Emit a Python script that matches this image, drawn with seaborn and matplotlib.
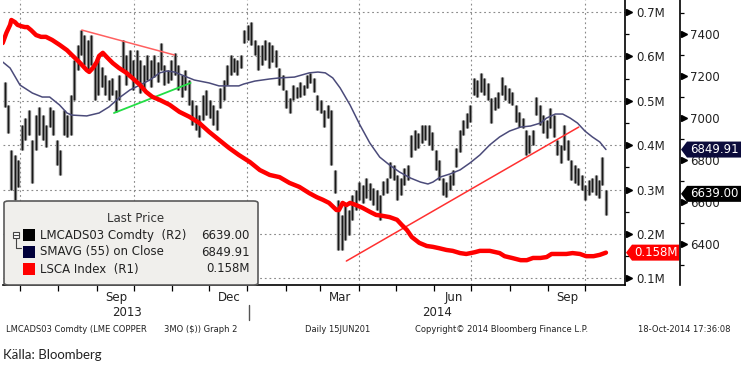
import numpy as np
import pandas as pd
import matplotlib
matplotlib.use("Agg")
import matplotlib.pyplot as plt
import matplotlib.transforms as mtrans
from matplotlib.patches import FancyBboxPatch, Rectangle, Polygon
from matplotlib.lines import Line2D
from matplotlib.ticker import FixedLocator, FuncFormatter
import seaborn as sns

sns.set_style("white")
plt.rcParams['font.family'] = ['DejaVu Sans']

# ---------------- data ----------------
bar_start, bar_end = "2013-06-18 12:00", "2014-10-18"
bar_highs = [7172, 7062, 6848, 6824, 6800, 6967, 7000, 7038, 6895, 7014,
             7053, 7014, 6967, 7053, 7038, 6895, 6848, 7038, 7014, 7110,
             7276, 7348, 7419, 7395, 7372, 7395, 7253, 7276, 7243, 7205,
             7181, 7191, 7134, 7205, 7372, 7300, 7324, 7276, 7324, 7276,
             7253, 7300, 7276, 7300, 7267, 7357, 7253, 7229, 7276, 7310,
             7253, 7205, 7229, 7181, 7086, 7062, 7014, 7110, 7134, 7086,
             7062, 7038, 7143, 7181, 7253, 7300, 7286, 7276, 7300, 7419,
             7443, 7457, 7372, 7348, 7348, 7372, 7362, 7348, 7324, 7238,
             7205, 7134, 7095, 7157, 7148, 7172, 7157, 7205, 7215, 7191,
             7110, 7086, 7038, 7062, 7038, 6753, 6610, 6538, 6586, 6562,
             6633, 6657, 6695, 6681, 6714, 6691, 6667, 6657, 6633, 6700,
             6714, 6791, 6776, 6729, 6714, 6762, 6776, 6919, 6943, 6929,
             6967, 6967, 6967, 6933, 6848, 6800, 6714, 6695, 6729, 6753,
             6857, 6943, 6991, 7024, 7062, 7191, 7181, 7215, 7191, 7167,
             7095, 7100, 7124, 7195, 7157, 7143, 7124, 7062, 7029, 7000,
             6943, 6919, 6943, 7100, 7062, 7014, 6991, 7048, 7014, 6895,
             6872, 6967, 6895, 6800, 6776, 6762, 6729, 6681, 6705, 6714,
             6729, 6705, 6814, 6657]
bar_lows = [7053, 6929, 6657, 6610, 6672, 6848, 6895, 6919, 6691, 6848,
            6919, 6895, 6862, 6957, 6919, 6776, 6729, 6919, 6910, 6919,
            7086, 7229, 7300, 7253, 7229, 7253, 7086, 7110, 7148, 7110,
            7086, 7110, 7029, 7086, 7229, 7157, 7205, 7134, 7181, 7119,
            7134, 7181, 7148, 7195, 7172, 7229, 7157, 7167, 7181, 7205,
            7134, 7100, 7134, 7062, 6967, 6943, 6910, 6991, 7014, 7000,
            6967, 6943, 7048, 7086, 7157, 7205, 7219, 7205, 7238, 7357,
            7372, 7348, 7300, 7229, 7253, 7276, 7238, 7267, 7243, 7157,
            7134, 7048, 7024, 7086, 7095, 7100, 7110, 7143, 7167, 7124,
            7038, 7024, 6957, 7000, 6776, 6643, 6372, 6372, 6419, 6443,
            6515, 6562, 6610, 6595, 6619, 6610, 6586, 6562, 6515, 6633,
            6643, 6714, 6705, 6610, 6633, 6681, 6705, 6814, 6848, 6857,
            6881, 6895, 6872, 6848, 6753, 6705, 6633, 6624, 6657, 6681,
            6767, 6838, 6919, 6953, 6981, 7110, 7100, 7124, 7110, 7086,
            6976, 7038, 7048, 7110, 7086, 7072, 7062, 6981, 6957, 6953,
            6824, 6833, 6872, 7014, 6967, 6929, 6905, 6953, 6910, 6824,
            6786, 6848, 6800, 6705, 6691, 6681, 6657, 6610, 6633, 6648,
            6633, 6619, 6681, 6538]

sma_dates = ["2013-06-17", "2013-06-23", "2013-07-01", "2013-07-11", "2013-07-19", "2013-07-25",
             "2013-08-02", "2013-08-08", "2013-08-12", "2013-08-24", "2013-09-03", "2013-09-11",
             "2013-09-19", "2013-09-28", "2013-10-06", "2013-10-14", "2013-10-22", "2013-10-28",
             "2013-11-03", "2013-11-11", "2013-11-19", "2013-12-01", "2013-12-09", "2013-12-17",
             "2013-12-25", "2013-12-29", "2014-01-07", "2014-01-19", "2014-01-27", "2014-02-08",
             "2014-02-20", "2014-02-27", "2014-03-05", "2014-03-11", "2014-03-17", "2014-03-25",
             "2014-04-02", "2014-04-10", "2014-04-18", "2014-04-26", "2014-05-04", "2014-05-13",
             "2014-05-21", "2014-05-27", "2014-05-31", "2014-06-06", "2014-06-14", "2014-06-22",
             "2014-06-30", "2014-07-08", "2014-07-16", "2014-07-24", "2014-08-01", "2014-08-10",
             "2014-08-18", "2014-08-26", "2014-08-31", "2014-09-07", "2014-09-13", "2014-09-19",
             "2014-09-25", "2014-10-01", "2014-10-07", "2014-10-13", "2014-10-18"]
sma_values = [7267, 7238, 7157, 7119, 7100, 7100, 7062, 7024, 7014, 7010,
              7024, 7053, 7095, 7134, 7157, 7181, 7215, 7224, 7219, 7200,
              7181, 7167, 7153, 7153, 7153, 7162, 7176, 7186, 7191, 7195,
              7215, 7219, 7215, 7191, 7143, 7062, 6967, 6881, 6814, 6776,
              6743, 6714, 6695, 6686, 6695, 6719, 6734, 6753, 6786, 6824,
              6872, 6910, 6938, 6957, 6962, 6976, 7000, 7019, 7019, 7000,
              6976, 6938, 6910, 6886, 6850]

lsca_dates = ["2013-06-17", "2013-06-20", "2013-06-23", "2013-06-24", "2013-06-27", "2013-06-29",
              "2013-07-02", "2013-07-05", "2013-07-07", "2013-07-10", "2013-07-14", "2013-07-18",
              "2013-07-22", "2013-07-27", "2013-08-02", "2013-08-08", "2013-08-12", "2013-08-18",
              "2013-08-24", "2013-08-26", "2013-08-29", "2013-09-01", "2013-09-03", "2013-09-06",
              "2013-09-09", "2013-09-14", "2013-09-19", "2013-09-25", "2013-09-30", "2013-10-06",
              "2013-10-11", "2013-10-16", "2013-10-22", "2013-10-30", "2013-11-07", "2013-11-15",
              "2013-11-23", "2013-12-01", "2013-12-09", "2013-12-17", "2013-12-25", "2014-01-03",
              "2014-01-11", "2014-01-19", "2014-01-27", "2014-02-04", "2014-02-12", "2014-02-20",
              "2014-02-26", "2014-03-03", "2014-03-08", "2014-03-14", "2014-03-16", "2014-03-19",
              "2014-03-22", "2014-03-25", "2014-03-30", "2014-04-04", "2014-04-10", "2014-04-15",
              "2014-04-20", "2014-04-26", "2014-05-02", "2014-05-06", "2014-05-10", "2014-05-14",
              "2014-05-20", "2014-05-26", "2014-05-31", "2014-06-05", "2014-06-11", "2014-06-16",
              "2014-06-22", "2014-06-27", "2014-07-04", "2014-07-08", "2014-07-16", "2014-07-24",
              "2014-07-28", "2014-08-03", "2014-08-10", "2014-08-15", "2014-08-20", "2014-08-26",
              "2014-08-31", "2014-09-04", "2014-09-11", "2014-09-16", "2014-09-21", "2014-09-27",
              "2014-10-02", "2014-10-08", "2014-10-13", "2014-10-18"]
lsca_values = [0.630, 0.653, 0.671, 0.682, 0.677, 0.671, 0.668, 0.666, 0.666, 0.659,
               0.648, 0.644, 0.644, 0.637, 0.626, 0.614, 0.603, 0.587, 0.569, 0.565,
               0.574, 0.587, 0.601, 0.608, 0.599, 0.585, 0.574, 0.563, 0.551, 0.536,
               0.520, 0.509, 0.502, 0.491, 0.475, 0.464, 0.450, 0.430, 0.412, 0.394,
               0.378, 0.362, 0.344, 0.333, 0.328, 0.315, 0.306, 0.292, 0.283, 0.277,
               0.270, 0.254, 0.254, 0.270, 0.265, 0.270, 0.265, 0.259, 0.250, 0.243,
               0.241, 0.238, 0.232, 0.220, 0.209, 0.193, 0.180, 0.173, 0.171, 0.168,
               0.164, 0.162, 0.157, 0.155, 0.159, 0.162, 0.162, 0.157, 0.150, 0.146,
               0.141, 0.141, 0.146, 0.146, 0.148, 0.155, 0.155, 0.155, 0.157, 0.155,
               0.150, 0.150, 0.153, 0.158]

trend_upper_dates = ["2013-08-20", "2013-11-03"]
trend_upper_prices = [7419, 7300]
trend_lower_dates = ["2013-09-15", "2013-11-16"]
trend_lower_prices = [7024, 7167]
trend_2014_dates = ["2014-03-22", "2014-09-26"]
trend_2014_prices = [6319, 6957]

month_label_dates = ["2013-09-17", "2013-12-17", "2014-03-17", "2014-06-17", "2014-09-17"]
month_labels = ["Sep", "Dec", "Mar", "Jun", "Sep"]
quarter_dates = ["2013-07-01", "2013-10-01", "2014-01-01", "2014-04-01", "2014-07-01", "2014-10-01"]
r1_ticks = [0.1, 0.2, 0.3, 0.4, 0.5, 0.6, 0.7]
r1_minor = [0.15, 0.25, 0.35, 0.45, 0.55, 0.65]
r2_ticks = [6400, 6600, 6800, 7000, 7200, 7400]
r2_minor = [6300, 6500, 6700, 6900, 7100, 7300, 7500]

last_price, last_sma, last_lsca = 6639.00, 6849.91, 0.158

# ---------------- figure ----------------
W, H = 747, 366
fig = plt.figure(figsize=(W / 100, H / 100), dpi=100)
fig.patch.set_facecolor("white")


def fx(p):
    return p / W


def fy(p):
    return 1 - p / H


L, R, T, B = 3, 625, 0, 285
ax = fig.add_axes([fx(L), fy(B), (R - L) / W, (B - T) / H])
ax1 = ax.twinx()

bar_dates = pd.date_range(bar_start, bar_end, periods=len(bar_highs))
xmin, xmax = pd.Timestamp("2013-06-17 06:00"), pd.Timestamp("2014-11-02 10:00")

# grid
grid_kw = dict(color="#8a8a8a", lw=0.8, linestyle=(0, (1.6, 2.6)), zorder=0.5)
blend_h = mtrans.blended_transform_factory(ax.transAxes, ax1.transData)
for v in r1_ticks:
    ax.plot([0, 1], [v, v], transform=blend_h, **grid_kw)
for q in pd.to_datetime(quarter_dates):
    ax.axvline(q, **grid_kw)

# price bars
ax.vlines(bar_dates, bar_lows, bar_highs, color="#777777", lw=2.4, zorder=2)
ax.vlines(bar_dates, bar_lows, bar_highs, color="#161616", lw=0.7, zorder=2.1)

# SMA
sns.lineplot(x=pd.to_datetime(sma_dates), y=sma_values, ax=ax, color="#4b4b7a", lw=1.1, zorder=3)

# trend lines
sns.lineplot(x=pd.to_datetime(trend_upper_dates), y=trend_upper_prices, ax=ax, color="#ff6060", lw=1.1, zorder=3)
sns.lineplot(x=pd.to_datetime(trend_lower_dates), y=trend_lower_prices, ax=ax, color="#22dd44", lw=1.3, zorder=3)
sns.lineplot(x=pd.to_datetime(trend_2014_dates), y=trend_2014_prices, ax=ax, color="#ff3030", lw=1.1, zorder=3)

# LSCA
sns.lineplot(x=pd.to_datetime(lsca_dates), y=lsca_values, ax=ax1, color="#ff0000", lw=3.2, zorder=4)

ax.set_xlim(xmin, xmax)
ax.set_ylim(6205, 7562)
ax1.set_ylim(0.0851, 0.727)
for a in (ax, ax1):
    a.set_xlabel("")
    a.set_ylabel("")

# spines
for s in ("left", "top"):
    ax.spines[s].set_visible(False)
    ax1.spines[s].set_visible(False)
ax1.spines["bottom"].set_visible(False)
ax.spines["bottom"].set_color("black")
ax.spines["bottom"].set_linewidth(1.2)
ax1.spines["right"].set_color("black")
ax1.spines["right"].set_linewidth(1.2)
ax.spines["right"].set_position(("axes", (680 - L) / (R - L)))
ax.spines["right"].set_color("black")
ax.spines["right"].set_linewidth(1.2)

ax.yaxis.tick_right()
ax.yaxis.set_label_position("right")

# R2 ticks (price)
ax.yaxis.set_major_locator(FixedLocator(r2_ticks))
ax.yaxis.set_minor_locator(FixedLocator(r2_minor))
ax.yaxis.set_major_formatter(FuncFormatter(lambda v, p: f"{v:.0f}"))
ax.tick_params(axis="y", which="major", length=0, pad=7.5, labelsize=8.5, labelcolor="#222222")
ax.tick_params(axis="y", which="minor", length=3, width=0.9, color="black", direction="out")

# R1 ticks (LSCA)
ax1.yaxis.set_major_locator(FixedLocator(r1_ticks))
ax1.yaxis.set_minor_locator(FixedLocator(r1_minor))
ax1.yaxis.set_major_formatter(FuncFormatter(lambda v, p: f"{v:.1f}M"))
ax1.tick_params(axis="y", which="major", length=0, pad=8, labelsize=8.5, labelcolor="#222222")
ax1.tick_params(axis="y", which="minor", length=3, width=0.9, color="black", direction="out")

# triangle tick markers
tr1 = mtrans.blended_transform_factory(ax1.transAxes, ax1.transData)
ax1.plot([(629 - L) / (R - L)] * len(r1_ticks), r1_ticks, linestyle="none", marker=">",
         ms=4.5, color="black", transform=tr1, clip_on=False, zorder=6)
tr2 = mtrans.blended_transform_factory(ax.transAxes, ax.transData)
ax.plot([(684 - L) / (R - L)] * len(r2_ticks), r2_ticks, linestyle="none", marker=">",
        ms=4.5, color="black", transform=tr2, clip_on=False, zorder=6)

# x ticks
ax.set_xticks(pd.to_datetime(month_label_dates))
ax.set_xticklabels(month_labels)
month_starts = pd.date_range("2013-07-01", "2014-10-01", freq="MS")
ax.set_xticks(month_starts, minor=True)
ax.tick_params(axis="x", which="major", length=0, pad=4, labelsize=8.5, labelcolor="#222222")
ax.tick_params(axis="x", which="minor", length=4, width=0.9, color="black", direction="out", bottom=True)
ax1.tick_params(axis="x", which="both", bottom=False, labelbottom=False)

# year labels and separator
fig.text(fx(127), fy(313), "2013", ha="center", va="center", fontsize=8.5, color="#222222")
fig.text(fx(437), fy(313), "2014", ha="center", va="center", fontsize=8.5, color="#222222")
fig.add_artist(Line2D([fx(249), fx(249)], [fy(305), fy(320)], color="#555555", lw=1.0))

# last value boxes (pointed tags drawn in pixel space at the data value)
ident = mtrans.IdentityTransform()


def value_tag(axis, value, text, x0, x1, color):
    yd = axis.transData.transform((0, value))[1]
    h = 8
    poly = Polygon([(x0, yd), (x0 + 6, yd + h), (x1, yd + h), (x1, yd - h), (x0 + 6, yd - h)],
                   closed=True, transform=ident, facecolor=color, edgecolor="none", zorder=9)
    fig.add_artist(poly)
    fig.text((x0 + 6 + x1) / 2 + 0.5, yd, text, transform=ident, ha="center", va="center",
             fontsize=8.5, color="white", zorder=10)


value_tag(ax, last_sma, f"{last_sma:.2f}", 681, 741, "#0b0b3b")
value_tag(ax, last_price, f"{last_price:.2f}", 681, 741, "#000000")
value_tag(ax1, last_lsca, f"{last_lsca:.3f}M", 626, 679, "#ff0000")

# legend box
box = FancyBboxPatch((fx(4), fy(285)), fx(254), (285 - 201) / H,
                     boxstyle="round,pad=0,rounding_size=0.006", transform=fig.transFigure,
                     facecolor="#f0efec", edgecolor="#5a5a5a", lw=1.2, zorder=5)
fig.add_artist(box)
fig.text(fx(136), fy(219), "Last Price", ha="center", va="center", fontsize=8.5, color="#333333", zorder=7)
leg_rows = [("LMCADS03 Comdty  (R2)", f"{last_price:.2f}", "#000000"),
            ("SMAVG (55) on Close", f"{last_sma:.2f}", "#00003a"),
            ("LSCA Index  (R1)", f"{last_lsca:.3f}M", "#ff0000")]
for i, (lab, val, col) in enumerate(leg_rows):
    yc = 235 + i * 17
    fig.add_artist(Rectangle((fx(23), fy(yc + 6)), fx(12), 12 / H, transform=fig.transFigure,
                             facecolor=col, edgecolor="none", zorder=6))
    fig.text(fx(40), fy(yc), lab, ha="left", va="center", fontsize=8.5, color="#222222", zorder=7)
    fig.text(fx(250), fy(yc), val, ha="right", va="center", fontsize=8.5, color="#222222", zorder=7)
# tree icon
fig.add_artist(Rectangle((fx(12.5), fy(238)), fx(6), 6 / H, transform=fig.transFigure,
                         facecolor="white", edgecolor="#444444", lw=0.8, zorder=6))
fig.add_artist(Line2D([fx(14), fx(17.5)], [fy(235), fy(235)], color="#444444", lw=0.8, zorder=6))
fig.add_artist(Line2D([fx(15.5), fx(15.5), fx(21)], [fy(238), fy(248), fy(248)], color="#444444", lw=0.8, zorder=6))

# footer
foot_kw = dict(ha="left", va="center", fontsize=6, color="#222222")
fig.text(fx(6), fy(330), "LMCADS03 Comdty (LME COPPER", **foot_kw)
fig.text(fx(164), fy(330), "3MO ($)) Graph 2", **foot_kw)
fig.text(fx(305), fy(330), "Daily 15JUN201", **foot_kw)
fig.text(fx(415), fy(330), "Copyright\u00a9 2014 Bloomberg Finance L.P.", **foot_kw)
fig.text(fx(638), fy(330), "18-Oct-2014 17:36:08", **foot_kw)
fig.text(fx(3), fy(355), "Källa: Bloomberg", ha="left", va="center", fontsize=9.5,
         family=["Lato", "DejaVu Sans"], color="#222222")

fig.savefig("out.png", dpi=100, facecolor="white")
